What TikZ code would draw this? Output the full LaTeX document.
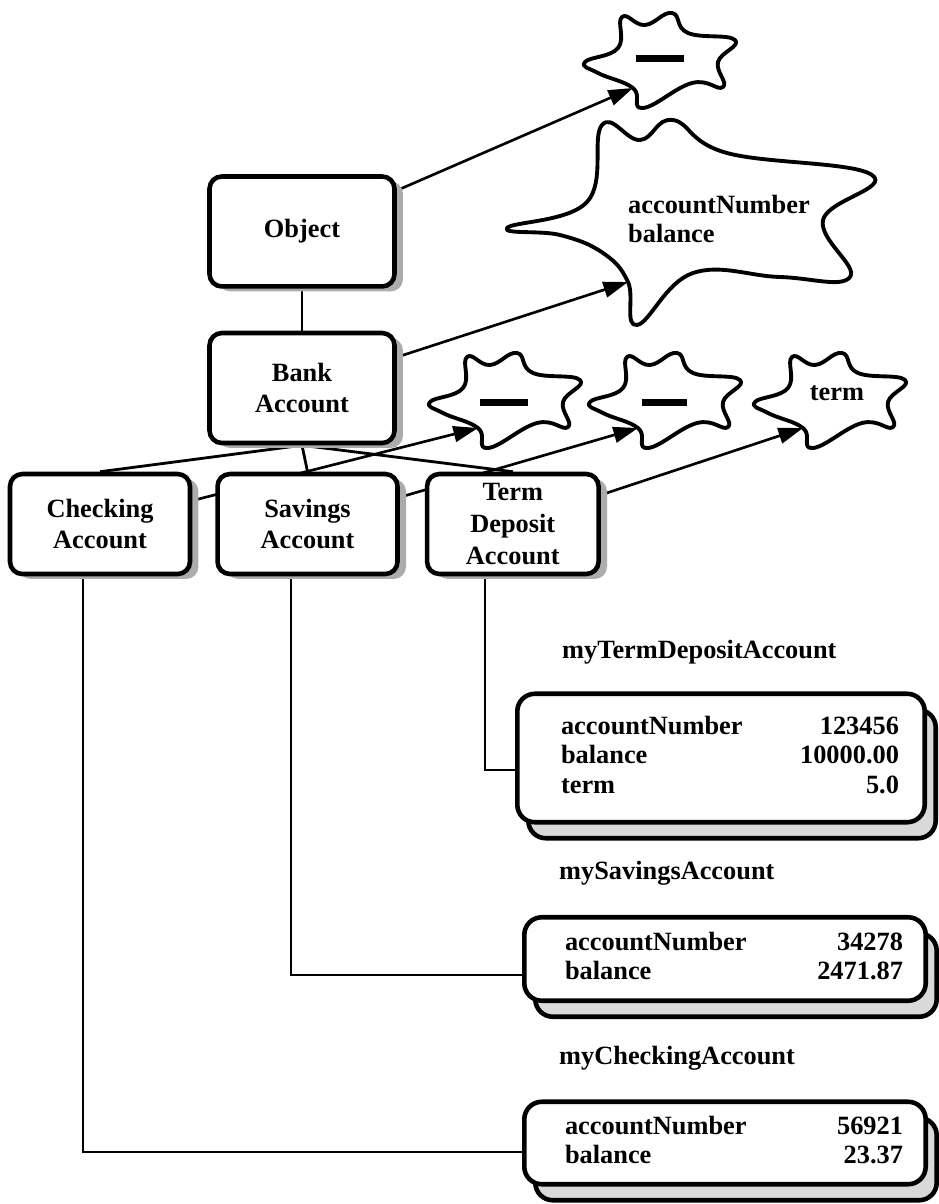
\documentclass[tikz,border=0pt]{standalone}
\usepackage{fontspec}
\setmainfont{Liberation Serif}
\usetikzlibrary{arrows.meta,positioning,shadows,backgrounds,calc}

\tikzstyle{arrow} = [line width=1.5pt,-{Triangle[length=14pt,width=9pt]}]
\tikzstyle{link} = [line width=1.6pt]
\tikzstyle{thinlink} = [line width=1.1pt]
\tikzstyle{classbox} = [draw,line width=2.6pt,rounded corners=7pt,fill=white,
	align=center,minimum width=3.6cm,minimum height=2.0cm,
	drop shadow={shadow xshift=0.17cm,shadow yshift=-0.1cm,fill=gray!65,opacity=1}]
\tikzstyle{objbox} = [draw,line width=2.6pt,rounded corners=10pt,fill=white,
	minimum width=8.03cm,font=\bfseries\fontsize{15}{17}\selectfont,
	general shadow={shadow xshift=0.22cm,shadow yshift=-0.32cm,fill=gray!30,draw=black}]
\tikzstyle{blobline} = [line width=2.2pt,line join=round]

% small wavy blob, #1 name of the arrow end, #2 centre
\newcommand{\blob}[2]{%
	\begin{scope}[shift={#2}]
		\draw[blobline] plot[smooth cycle,tension=0.75] coordinates {(-75,2) (-42,-12) (-38,-43)
			(-15,-35) (12,-47) (28,-27) (75,-20) (58,2) (63,27) (32,23) (-17,48) (-27,28) (-62,13)};
		\coordinate (#1) at (-27,28);
	\end{scope}}

% two column field list of an object
\newcommand{\fields}[1]{\hspace*{0.36cm}%
	\begin{tabular*}{6.76cm}{@{}l@{\extracolsep{\fill}}r@{}}#1\end{tabular*}}

\begin{document}
\begin{tikzpicture}[x=0.02cm,y=-0.02cm,font=\bfseries\fontsize{15}{18}\selectfont]

			\useasboundingbox (0,0) rectangle (939,1204);

			% Classes
			\node[classbox,minimum width=3.7cm,minimum height=2.2cm] (bank) at (302,388) {Bank\\Account};
			\node[classbox,minimum width=3.7cm,minimum height=2.2cm,above=0.84cm of bank] (obj) {Object};

			\node[classbox] (chk) at (100,524) {Checking\\Account};
			\node[classbox,right=0.46cm of chk] (sav) {Savings\\Account};
			\node[classbox,right=0.5cm of sav,minimum width=3.43cm] (term) {Term\\Deposit\\Account};

			% Variables
			\blob{c0}{(660,60)}
			\node (c0txt) at (660,58) {\rule{0.96cm}{0.14cm}};

			\begin{scope}[shift={(690,220)}]
				\draw[blobline] plot[smooth cycle,tension=0.7] coordinates {(-183,8) (-103,-18) (-88,-95)
					(-50,-80) (-17,-100) (37,-67) (182,-45) (133,0) (160,57) (90,57) (3,53) (-53,105)
					(-62,62) (-87,33) (-130,15)};
				\coordinate (cbig) at (-62,62);
			\end{scope}
			\node[anchor=west,align=left,font=\bfseries\fontsize{15}{16}\selectfont] (cbigtxt) at (622,219) {accountNumber\\balance};

			\blob{c1}{(505,400)}
			\node (c1txt) at (504,402) {\rule{0.96cm}{0.14cm}};
			\blob{c2}{(665,400)}
			\node (c2txt) at (664,402) {\rule{0.9cm}{0.14cm}};
			\blob{c3}{(830,400)}
			\node (c3txt) at (837,393) {term};

			% Objects
			\node[anchor=west] (tdlbl) at (556,652) {myTermDepositAccount};
			\node[objbox,minimum width=8.15cm,minimum height=2.57cm] (tdobj) at (721,758)
				{\fields{accountNumber & 123456\\ balance & 10000.00\\ term & 5.0}};

			\node[anchor=west] (savlbl) at (553,873) {mySavingsAccount};
			\node[objbox,minimum height=1.67cm] (savobj) at (725,959)
				{\fields{accountNumber & 34278\\ balance & 2471.87}};

			\node[anchor=west] (chklbl) at (553,1058) {myCheckingAccount};
			\node[objbox,minimum height=1.65cm] (chkobj) at (725,1143)
				{\fields{accountNumber & 56921\\ balance & 23.37}};

			% Arrows
			\begin{scope}[on background layer]
				\draw[link] (obj) -- (bank);
				\draw[link] (bank.south) -- (chk.north);
				\draw[link] (bank.south) -- (sav.north);
				\draw[link] (bank.south) -- (term.north);

				\draw[arrow] (obj) -- (c0);
				\draw[arrow] (bank) -- (cbig);
				\draw[arrow] (chk) -- (c1);
				\draw[arrow] (sav) -- (c2);
				\draw[arrow] (term) -- (c3);

				\draw[thinlink] ([xshift=-0.56cm]term.south) |- ([yshift=-0.24cm]tdobj.west);
				\draw[thinlink] ([xshift=-0.33cm]sav.south) |- ([yshift=-0.32cm]savobj.west);
				\draw[thinlink] ([xshift=-0.34cm]chk.south) |- ([yshift=-0.18cm]chkobj.west);
			\end{scope}
		\end{tikzpicture}
\end{document}
